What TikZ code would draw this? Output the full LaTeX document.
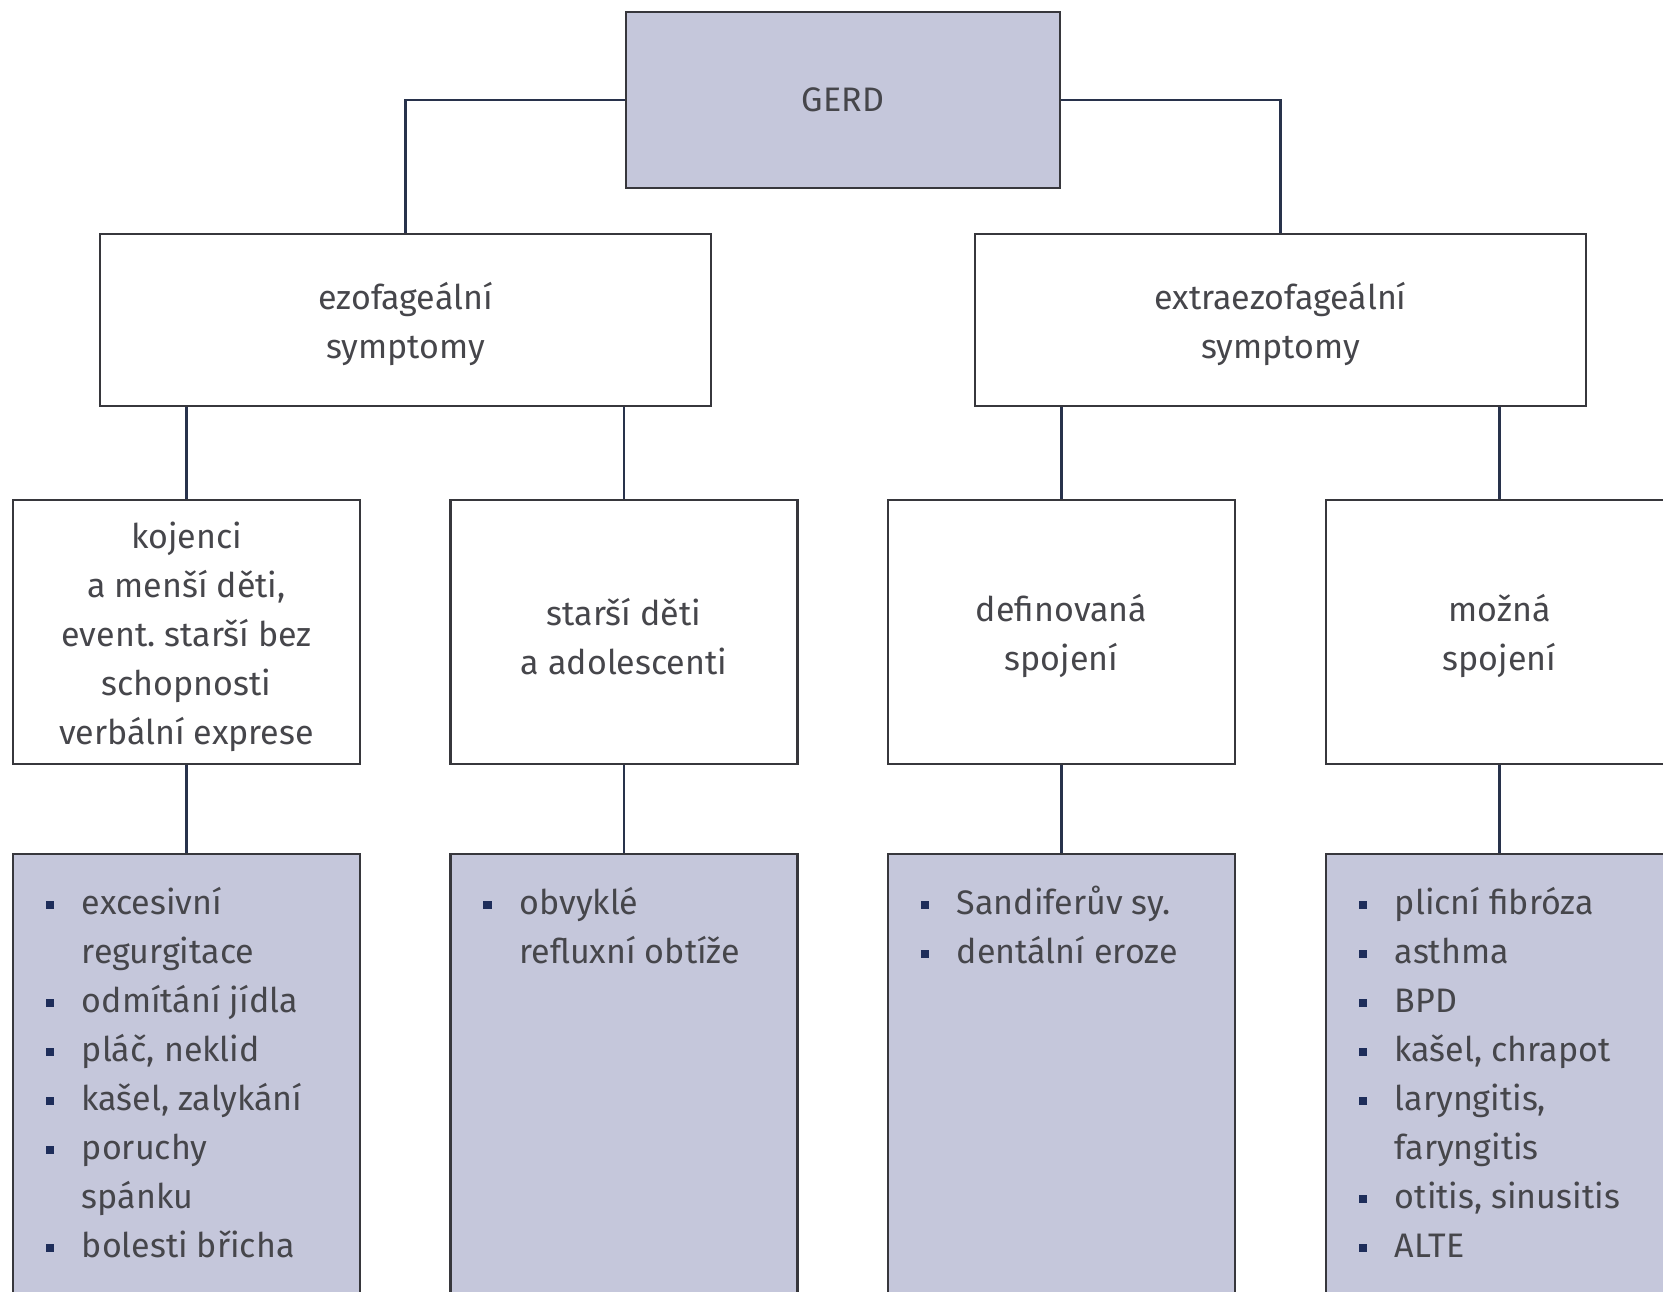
\documentclass[tikz,border=0pt]{standalone}
\usepackage{fontspec}
\setmainfont{Fira Sans}
\usetikzlibrary{positioning}
\frenchspacing
\definecolor{boxfill}{RGB}{197,199,219}
\definecolor{framec}{RGB}{55,55,60}
\definecolor{linkc}{RGB}{40,50,75}
\definecolor{textc}{RGB}{70,70,75}
\definecolor{bulletc}{RGB}{30,45,90}
\newcommand\bul{\makebox[36pt][l]{\textcolor{bulletc}{\rule[5pt]{8.5pt}{8.5pt}}}}
\newcommand\ind{\hspace*{36pt}}
% taller first line so the block sits a little lower in its box
\newcommand\firstline{\rule{0pt}{36pt}}
\tikzset{
  x=1pt, y=-1pt,
  base/.style={draw=framec, line width=2.6pt, rectangle, inner sep=0pt,
    text=textc, align=center, font=\fontsize{34}{49}\selectfont},
  topbox/.style={base, fill=boxfill, minimum width=434pt, minimum height=176pt},
  groupbox/.style={base, fill=white, minimum width=611pt, minimum height=172pt},
  agebox/.style={base, fill=white, minimum width=347pt, minimum height=264pt},
  listbox/.style={base, fill=boxfill, minimum width=347pt, minimum height=460pt},
  listtext/.style={anchor=north west, inner sep=0pt, align=left, text=textc,
    font=\fontsize{34}{49}\selectfont},
  link/.style={draw=linkc, line width=2.2pt}
}
\begin{document}
\begin{tikzpicture}
\clip (0,0) rectangle (1663,1292);
\fill[white] (0,0) rectangle (1663,1292);

% top node
\node[topbox] (gerd) at (843,100) {GERD};

% symptom groups
\node[groupbox] (ezo) at (405.5,320) {\firstline ezofageální\\symptomy};
\node[groupbox] (extra) at (1280.5,320) {\firstline extraezofageální\\symptomy};

% patient groups / associations
\node[agebox] (koj) at (186.5,632) {\firstline kojenci\\a menší děti,\\event. starší bez\\schopnosti\\verbální exprese};
\node[agebox] (star) at (624,632) {\firstline starší děti\\a adolescenti};
\node[agebox] (def) at (1061.5,632) {\firstline definovaná\\spojení};
\node[agebox] (moz) at (1499.5,632) {\firstline možná\\spojení};

% symptom lists
\node[listbox] (kojL) at (186.5,1084) {};
\node[listbox] (starL) at (624,1084) {};
\node[listbox] (defL) at (1061.5,1084) {};
\node[listbox] (mozL) at (1499.5,1084) {};

\node[listtext] (kojT) at ([shift={(34,27)}]kojL.north west)
  {\strut\bul excesivní\\\strut\ind regurgitace\\\strut\bul odmítání jídla\\\strut\bul pláč, neklid\\
   \strut\bul kašel, zalykání\\\strut\bul poruchy\\\strut\ind spánku\\\strut\bul bolesti břicha};
\node[listtext] (starT) at ([shift={(34,27)}]starL.north west)
  {\strut\bul obvyklé\\\strut\ind refluxní obtíže};
\node[listtext] (defT) at ([shift={(34,27)}]defL.north west)
  {\strut\bul Sandiferův sy.\\\strut\bul dentální eroze};
\node[listtext] (mozT) at ([shift={(34,27)}]mozL.north west)
  {\strut\bul plicní fibróza\\\strut\bul asthma\\\strut\bul BPD\\\strut\bul kašel, chrapot\\
   \strut\bul laryngitis,\\\strut\ind faryngitis\\\strut\bul otitis, sinusitis\\\strut\bul ALTE};

% connectors
\draw[link] (gerd.west) -| (ezo.north);
\draw[link] (gerd.east) -| (extra.north);
\draw[link] (ezo.south -| koj.north) -- (koj.north);
\draw[link] (ezo.south -| star.north) -- (star.north);
\draw[link] (extra.south -| def.north) -- (def.north);
\draw[link] (extra.south -| moz.north) -- (moz.north);
\draw[link] (koj.south) -- (kojL.north);
\draw[link] (star.south) -- (starL.north);
\draw[link] (def.south) -- (defL.north);
\draw[link] (moz.south) -- (mozL.north);
\end{tikzpicture}
\end{document}
